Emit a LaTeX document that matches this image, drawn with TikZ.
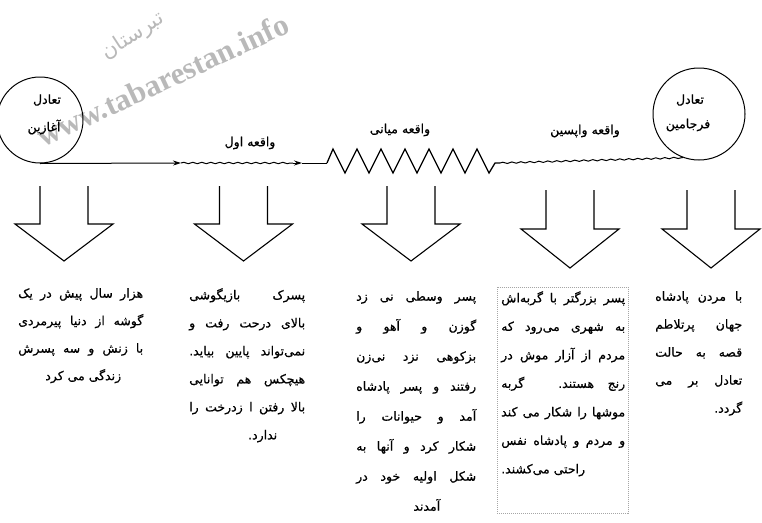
\documentclass[tikz,border=0pt]{standalone}
\usepackage{fontspec}
\setmainfont{Liberation Serif}
\newfontfamily\fa[Script=Arabic,FakeBold=0.6]{DejaVu Sans}
\newfontfamily\fawm[Script=Arabic]{DejaVu Sans}
\TeXXeTstate=1
\usetikzlibrary{arrows.meta,decorations.pathmorphing}
% justified full line, right-offset partial line, left-aligned partial line
\newcommand\faJ[2]{\hbox to #1{#2}}
\newcommand\faP[3]{\hbox to #1{\hfill#3\hskip #2}}
\newcommand\faL[2]{\hbox to #1{#2\hfill}}
\tikzset{
  ln/.style={line width=1pt,black},
  wavy/.style={ln,decorate,decoration={snake,amplitude=0.7pt,segment length=9pt}},
  tip/.style={-{Stealth[length=8pt,width=5pt]}},
  eqcirc/.style={circle,draw,line width=1pt,inner sep=0pt},
  lbl/.style={font=\fa\fontsize{12.5}{14}\selectfont,inner sep=0pt},
  blk/.style={font=\fa\fontsize{12.5}{14}\selectfont,inner sep=0pt,anchor=north west},
  barrow/.style={line width=1.1pt,line join=miter},
  wm/.style={text=gray!55,inner sep=0pt},
}
\newcommand\dnarrow[4]{% center x, top, head base, tip
  \draw[barrow] (#1-24,#2) -- (#1-24,#3) -- (#1-49,#3) -- (#1,#4) -- (#1+49,#3) -- (#1+24,#3) -- (#1+24,#2);}
\begin{document}
\begin{tikzpicture}[x=1pt,y=-1pt]
\useasboundingbox (0,0) rectangle (762,522);
% watermark
\node[wm,font=\fawm\fontsize{21}{23}\selectfont,rotate=33] (wm1) at (133,36) {\beginR تبرستان\endR};
\node[wm,font=\bfseries\fontsize{31}{33}\selectfont,rotate=25] (wm2) at (163,80) {www.tabarestan.info};
% circles
\node[eqcirc,minimum size=86pt] (L) at (40,120) {};
\node[lbl] (Lt1) at (47,100) {\beginR تعادل\endR};
\node[lbl] (Lt2) at (44,127) {\beginR آغازین\endR};
\node[eqcirc,minimum size=92pt] (R) at (699,114) {};
\node[lbl] (Rt1) at (690,100) {\beginR تعادل\endR};
\node[lbl] (Rt2) at (688,125) {\beginR فرجامین\endR};
% labels
\node[lbl] (e1) at (250,143) {\beginR واقعه اول\endR};
\node[lbl] (e2) at (400,130) {\beginR واقعه میانی\endR};
\node[lbl] (e3) at (585,131) {\beginR واقعه واپسین\endR};
% main line
\coordinate (a1) at (181,163);
\coordinate (w1) at (293,163);
\coordinate (a2) at (302,163);
\coordinate (z0) at (327,163);
\coordinate (z1) at (500,163);
\draw[ln,tip] (L.south) -- (a1);
\draw[wavy] (a1) -- (w1);
\draw[ln,tip] (w1) -- (a2);
\draw[ln] (a2) -- (z0);
\draw[ln,line width=1.3pt,line join=miter] (z0) -- ++(6,-14)
  \foreach \i in {1,...,6}{ -- ++(12,24) -- ++(12,-24)} -- ++(12,24) -- ++(6,-10) -- (z1);
\draw[wavy] (z1) -- (R.250);
% block arrows
\dnarrow{64}{186}{224}{261}
\dnarrow{243.5}{186}{224}{261}
\dnarrow{411}{186}{224}{261}
\dnarrow{570}{190}{229}{268}
\dnarrow{711}{190}{229}{268}
% dotted box of block 4
\node[draw=gray!70,dash pattern=on 1pt off 1pt,line width=0.7pt,minimum width=131pt,minimum height=226pt,inner sep=0pt,anchor=north west] (box4) at (497,287) {};
% text blocks
\node[blk] (b1) at (18,288) {\vbox{\baselineskip=27.5pt
  \faJ{125pt}{\beginR هزار سال پیش در یک\endR}
  \faJ{125pt}{\beginR گوشه از دنیا پیرمردی\endR}
  \faJ{125pt}{\beginR با زنش و سه پسرش\endR}
  \faP{125pt}{22pt}{\beginR زندگی می کرد\endR}}};
\node[blk] (b2) at (189,288) {\vbox{\baselineskip=28pt
  \faJ{116pt}{\beginR پسرک بازیگوشی\endR}
  \faJ{116pt}{\beginR بالای درحت رفت و\endR}
  \faJ{116pt}{\beginR نمی‌تواند پایین بیاید.\endR}
  \faJ{116pt}{\beginR هیچکس هم توانایی\endR}
  \faJ{116pt}{\beginR بالا رفتن ا زدرخت را\endR}
  \faP{116pt}{28pt}{\beginR ندارد.\endR}}};
\node[blk] (b3) at (356,291) {\vbox{\baselineskip=30pt
  \faJ{120pt}{\beginR پسر وسطی نی زد\endR}
  \faJ{120pt}{\beginR گوزن و آهو و\endR}
  \faJ{120pt}{\beginR بزکوهی نزد نی‌زن\endR}
  \faJ{120pt}{\beginR رفتند و پسر پادشاه\endR}
  \faJ{120pt}{\beginR آمد و حیوانات را\endR}
  \faJ{120pt}{\beginR شکار کرد و آنها به\endR}
  \faJ{120pt}{\beginR شکل اولیه خود در\endR}
  \faP{120pt}{36pt}{\beginR آمدند\endR}}};
\node[blk] (b4) at (501,291) {\vbox{\baselineskip=28.5pt
  \faJ{124pt}{\beginR پسر بزرگتر با گربه‌اش\endR}
  \faJ{124pt}{\beginR به شهری می‌رود که\endR}
  \faJ{124pt}{\beginR مردم از آزار موش در\endR}
  \faJ{124pt}{\beginR رنج هستند. گربه\endR}
  \faJ{124pt}{\beginR موشها را شکار می کند\endR}
  \faJ{124pt}{\beginR و مردم و پادشاه نفس\endR}
  \faL{124pt}{\beginR راحتی می‌کشند.\endR}}};
\node[blk] (b5) at (655,291) {\vbox{\baselineskip=28pt
  \faJ{87pt}{\beginR با مردن پادشاه\endR}
  \faJ{87pt}{\beginR جهان پرتلاطم\endR}
  \faJ{87pt}{\beginR قصه به حالت\endR}
  \faJ{87pt}{\beginR تعادل بر می\endR}
  \faP{87pt}{0pt}{\beginR گردد.\endR}}};
\end{tikzpicture}
\end{document}
